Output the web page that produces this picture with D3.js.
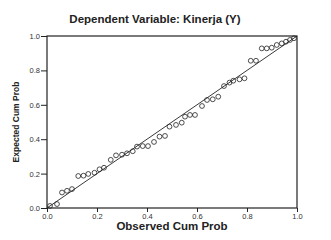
<html>
<head>
  <meta charset="utf-8" />
  <style type="text/css">
    body { margin: 0; background: white; }
    svg { font-family: "Liberation Sans", Arial, sans-serif; }
  </style>
  <script src="https://d3js.org/d3.v7.min.js" charset="utf-8"></script>
</head>
<body>
<svg width="331" height="240"></svg>
<script>
  // observed / expected cumulative probabilities
  var observed = [0.012, 0.04, 0.06, 0.08, 0.10, 0.125, 0.146, 0.165, 0.19, 0.21, 0.228,
    0.255, 0.276, 0.30, 0.32, 0.343, 0.36, 0.383, 0.404, 0.428, 0.45, 0.472,
    0.49, 0.516, 0.539, 0.552, 0.572, 0.592, 0.62, 0.64, 0.663, 0.685,
    0.708, 0.73, 0.745, 0.77, 0.79, 0.815, 0.836, 0.859, 0.879, 0.899,
    0.919, 0.939, 0.956, 0.972, 0.988];
  var expected = [0.012, 0.023, 0.09, 0.10, 0.11, 0.186, 0.188, 0.198, 0.205, 0.225, 0.234,
    0.28, 0.306, 0.31, 0.318, 0.33, 0.357, 0.36, 0.36, 0.384, 0.415, 0.419,
    0.473, 0.483, 0.496, 0.531, 0.541, 0.541, 0.593, 0.628, 0.632, 0.647,
    0.709, 0.729, 0.74, 0.748, 0.754, 0.856, 0.856, 0.928, 0.928, 0.932,
    0.948, 0.957, 0.967, 0.977, 0.987];
  var tickValues = [0, 0.2, 0.4, 0.6, 0.8, 1.0];
  var title = "Dependent Variable: Kinerja (Y)";

  var svg = d3.select("svg");
  var x = d3.scaleLinear().domain([0, 1]).range([47, 297]);
  var y = d3.scaleLinear().domain([0, 1]).range([208, 36]);

  // frame
  svg.append("rect")
    .attr("x", x(0)).attr("y", y(1))
    .attr("width", x(1) - x(0)).attr("height", y(0) - y(1))
    .style("fill", "none").style("stroke", "#222").style("stroke-width", 1.2);

  var xAxis = svg.append("g")
    .attr("transform", "translate(0," + y(0) + ")")
    .call(d3.axisBottom(x).tickValues(tickValues).tickFormat(d3.format(".1f")).tickSize(4).tickPadding(2));
  var yAxis = svg.append("g")
    .attr("transform", "translate(" + x(0) + ",0)")
    .call(d3.axisLeft(y).tickValues(tickValues).tickFormat(d3.format(".1f")).tickSize(6).tickPadding(1));

  [xAxis, yAxis].forEach(function (g) {
    g.select(".domain").remove();
    g.selectAll("line").style("stroke", "#222");
    g.selectAll("text").style("font-size", "7.5px").style("fill", "#333").style("font-family", "Liberation Sans, Arial");
  });

  // diagonal reference line
  svg.append("line")
    .attr("x1", x(0)).attr("y1", y(0))
    .attr("x2", x(1)).attr("y2", y(1))
    .style("stroke", "#222").style("stroke-width", 0.9);

  svg.selectAll("circle")
    .data(observed)
    .enter()
    .append("circle")
    .attr("cx", function (d) { return x(d) })
    .attr("cy", function (d, i) { return y(expected[i]) })
    .attr("r", 2.4)
    .style("fill", "none")
    .style("stroke", "#222")
    .style("stroke-width", 0.8);

  svg.append("text")
    .attr("x", 155).attr("y", 23)
    .style("text-anchor", "middle").style("font-weight", "bold").style("font-size", "11.5px")
    .style("fill", "#222")
    .text(title);

  svg.append("text")
    .attr("x", 172).attr("y", 230)
    .style("text-anchor", "middle").style("font-weight", "bold").style("font-size", "11.5px")
    .style("fill", "#222")
    .text("Observed Cum Prob");

  svg.append("text")
    .attr("transform", "translate(19,122) rotate(-90)")
    .style("text-anchor", "middle").style("font-weight", "bold").style("font-size", "8.5px")
    .style("fill", "#222")
    .text("Expected Cum Prob");
</script>
</body>
</html>
